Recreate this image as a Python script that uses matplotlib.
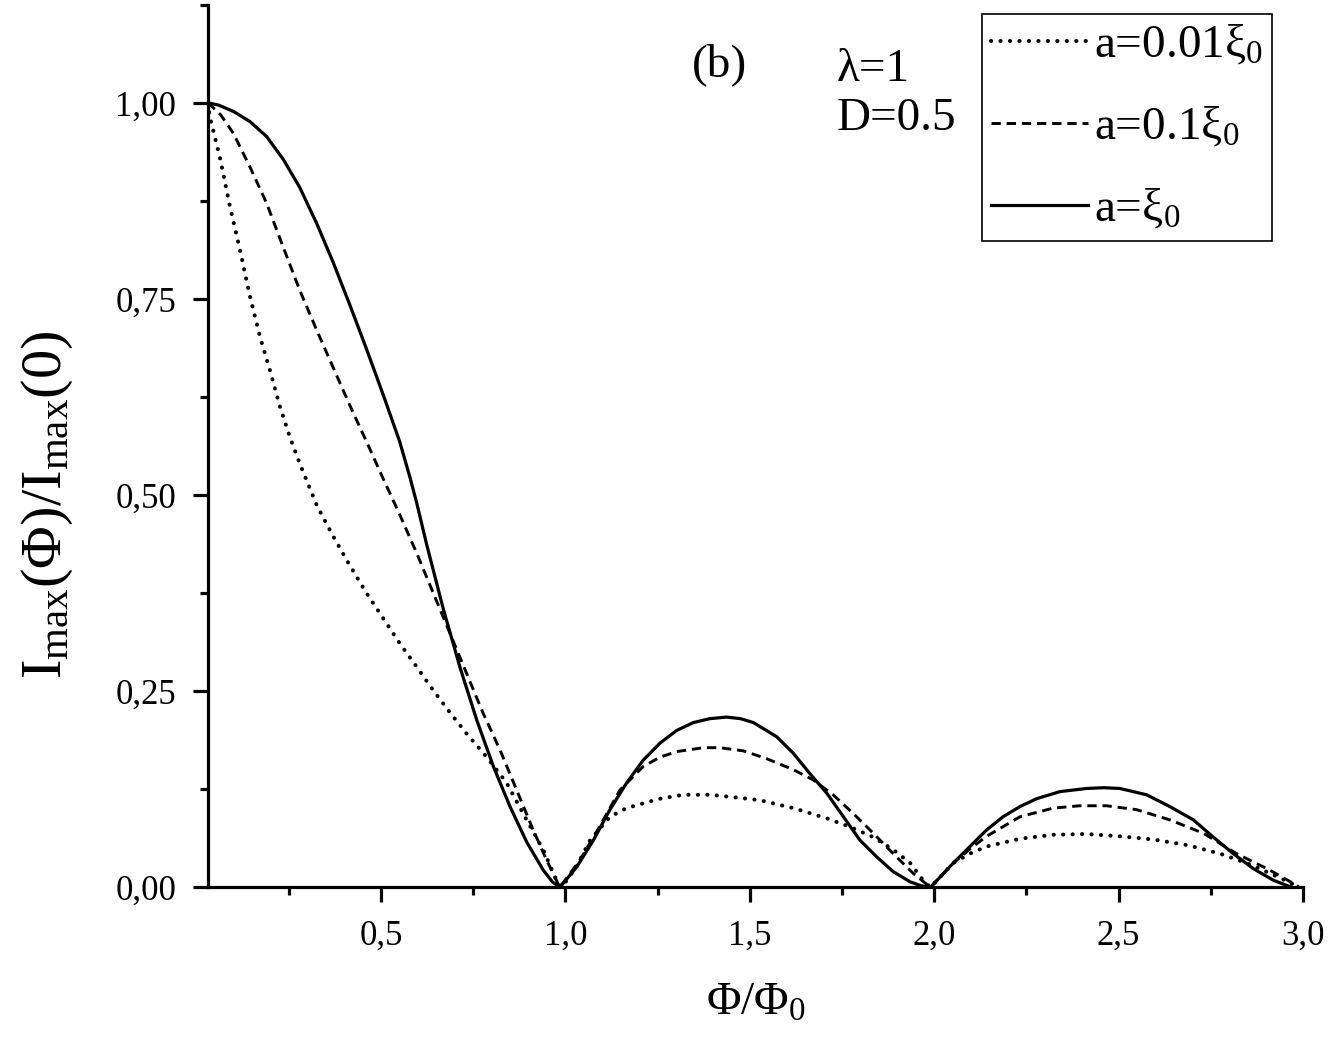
import matplotlib
matplotlib.use("Agg")
import matplotlib.pyplot as plt
from matplotlib.ticker import MultipleLocator, FixedLocator, FixedFormatter

plt.rcParams['font.family'] = ['Liberation Serif', 'DejaVu Serif']
plt.rcParams['mathtext.fontset'] = 'custom'
plt.rcParams['mathtext.rm'] = 'Liberation Serif'
plt.rcParams['mathtext.it'] = 'Liberation Serif:italic'

# ---- data ----
phi_dot = [0.031, 0.036, 0.063, 0.091, 0.118, 0.145, 0.172, 0.199, 0.226, 0.253, 0.28, 0.326,
           0.371, 0.416, 0.461, 0.506, 0.551, 0.597, 0.642, 0.687, 0.732, 0.787, 0.841, 0.895,
           0.940, 0.976, 0.99,
           1.03, 1.067, 1.121, 1.166, 1.211, 1.257, 1.32, 1.392, 1.455, 1.528, 1.618, 1.709,
           1.772, 1.835, 1.889, 1.935, 1.97, 1.99,
           2.052, 2.097, 2.142, 2.233, 2.323, 2.413, 2.504, 2.594, 2.685, 2.775, 2.847, 2.91,
           2.956, 2.99]
val_dot = [1.0, 0.982, 0.931, 0.867, 0.812, 0.753, 0.702, 0.659, 0.613, 0.574, 0.540, 0.487,
           0.447, 0.410, 0.375, 0.343, 0.311, 0.281, 0.251, 0.223, 0.196, 0.166, 0.133, 0.086,
           0.048, 0.009, 0.0,
           0.026, 0.060, 0.090, 0.101, 0.107, 0.113, 0.118, 0.118, 0.115, 0.111, 0.101, 0.088,
           0.077, 0.064, 0.048, 0.031, 0.009, 0.0,
           0.031, 0.043, 0.052, 0.062, 0.067, 0.068, 0.065, 0.061, 0.054, 0.043, 0.031, 0.018,
           0.008, 0.0]

phi_dash = [0.031, 0.065, 0.10, 0.145, 0.19, 0.235, 0.28, 0.326, 0.371, 0.416, 0.461, 0.506,
            0.551, 0.597, 0.642, 0.687, 0.732, 0.777, 0.823, 0.868, 0.913, 0.949, 0.985,
            1.04, 1.09, 1.148, 1.211, 1.257, 1.302, 1.374, 1.419, 1.482, 1.546, 1.618, 1.672,
            1.726, 1.781, 1.835, 1.889, 1.943, 1.99,
            2.05, 2.10, 2.142, 2.233, 2.323, 2.395, 2.467, 2.549, 2.639, 2.730, 2.820, 2.91,
            2.974, 2.99]
val_dash = [1.0, 0.985, 0.961, 0.918, 0.872, 0.816, 0.761, 0.710, 0.662, 0.614, 0.568, 0.521,
            0.475, 0.426, 0.375, 0.324, 0.273, 0.222, 0.175, 0.124, 0.073, 0.035, 0.0,
            0.035, 0.075, 0.124, 0.154, 0.166, 0.173, 0.178, 0.178, 0.174, 0.164, 0.150, 0.137,
            0.118, 0.094, 0.069, 0.043, 0.018, 0.0,
            0.030, 0.050, 0.065, 0.090, 0.101, 0.104, 0.104, 0.099, 0.086, 0.069, 0.043, 0.022,
            0.005, 0.0]

phi_sol = [0.031, 0.06, 0.10, 0.145, 0.19, 0.235, 0.28, 0.326, 0.371, 0.416, 0.461, 0.506,
           0.551, 0.579, 0.597, 0.624, 0.669, 0.714, 0.760, 0.805, 0.850, 0.895, 0.940, 0.965,
           0.985,
           1.031, 1.076, 1.121, 1.166, 1.211, 1.257, 1.302, 1.347, 1.392, 1.437, 1.475, 1.510,
           1.573, 1.618, 1.663, 1.709, 1.754, 1.799, 1.844, 1.889, 1.935, 1.965, 1.99,
           2.052, 2.097, 2.142, 2.187, 2.233, 2.278, 2.341, 2.413, 2.46, 2.504, 2.54, 2.576,
           2.639, 2.703, 2.757, 2.811, 2.865, 2.920, 2.97]
val_sol = [1.0, 0.997, 0.989, 0.976, 0.957, 0.928, 0.892, 0.846, 0.796, 0.742, 0.686, 0.628,
           0.568, 0.522, 0.490, 0.437, 0.355, 0.281, 0.213, 0.154, 0.103, 0.058, 0.022, 0.007,
           0.0,
           0.026, 0.060, 0.099, 0.133, 0.162, 0.184, 0.200, 0.210, 0.215, 0.217, 0.215, 0.210,
           0.192, 0.171, 0.145, 0.120, 0.090, 0.060, 0.039, 0.020, 0.007, 0.002, 0.0,
           0.031, 0.052, 0.073, 0.090, 0.103, 0.113, 0.122, 0.126, 0.127, 0.126, 0.122, 0.118,
           0.103, 0.086, 0.064, 0.043, 0.024, 0.009, 0.0]

labels = ['a=0.01ξ$_0$', 'a=0.1ξ$_0$', 'a=ξ$_0$']
xtick_vals = [0.5, 1.0, 1.5, 2.0, 2.5, 3.0]
xtick_labels = ['0,5', '1,0', '1,5', '2,0', '2,5', '3,0']
ytick_vals = [0.0, 0.25, 0.5, 0.75, 1.0]
ytick_labels = ['0,00', '0,25', '0,50', '0,75', '1,00']

# ---- figure ----
fig = plt.figure(figsize=(13.34, 10.48), dpi=100)
ax = fig.add_axes([0.1559, 0.1533, 0.8208, 0.8422])

ax.plot(phi_dot, val_dot, color='black', lw=2.9, linestyle=(0, (0.05, 2.3)),
        dash_capstyle='round', label=labels[0])
ax.plot(phi_dash, val_dash, color='black', lw=2.1, linestyle=(0, (3.2, 2.0)),
        label=labels[1])
ax.plot(phi_sol, val_sol, color='black', lw=2.3, linestyle='-', label=labels[2])

ax.set_xlim(0.031, 3.0)
ax.set_ylim(0.0, 1.125)

for s in ['top', 'right']:
    ax.spines[s].set_visible(False)
for s in ['left', 'bottom']:
    ax.spines[s].set_linewidth(2.3)

ax.xaxis.set_major_locator(FixedLocator(xtick_vals))
ax.xaxis.set_major_formatter(FixedFormatter(xtick_labels))
ax.xaxis.set_minor_locator(MultipleLocator(0.25))
ax.yaxis.set_major_locator(FixedLocator(ytick_vals))
ax.yaxis.set_major_formatter(FixedFormatter(ytick_labels))
ax.yaxis.set_minor_locator(MultipleLocator(0.125))

ax.tick_params(which='major', direction='out', length=11, width=2.3, labelsize=25, pad=12)
ax.tick_params(which='minor', direction='out', length=6, width=2.3)

ax.set_xlabel('Φ/Φ$_0$', fontsize=34)
ax.xaxis.set_label_coords(0.5, -0.108)
ax.set_ylabel('I$_{\\mathrm{max}}$(Φ)/I$_{\\mathrm{max}}$(0)', fontsize=42)
ax.yaxis.set_label_coords(-0.121, 0.433)

fig.text(0.539, 0.938, '(b)', fontsize=34, ha='center', va='center')
fig.text(0.627, 0.933, 'λ=1', fontsize=34, ha='left', va='center')
fig.text(0.627, 0.887, 'D=0.5', fontsize=34, ha='left', va='center')

leg = ax.legend(loc='upper right', bbox_to_anchor=(0.9535, 0.9866),
                bbox_transform=fig.transFigure, borderaxespad=0, fontsize=34,
                frameon=True, fancybox=False, edgecolor='black', framealpha=1,
                handlelength=2.05, handletextpad=0.12, labelspacing=0.8, borderpad=0.2)
leg.get_frame().set_linewidth(1.2)

fig.savefig('out.png', dpi=100)
